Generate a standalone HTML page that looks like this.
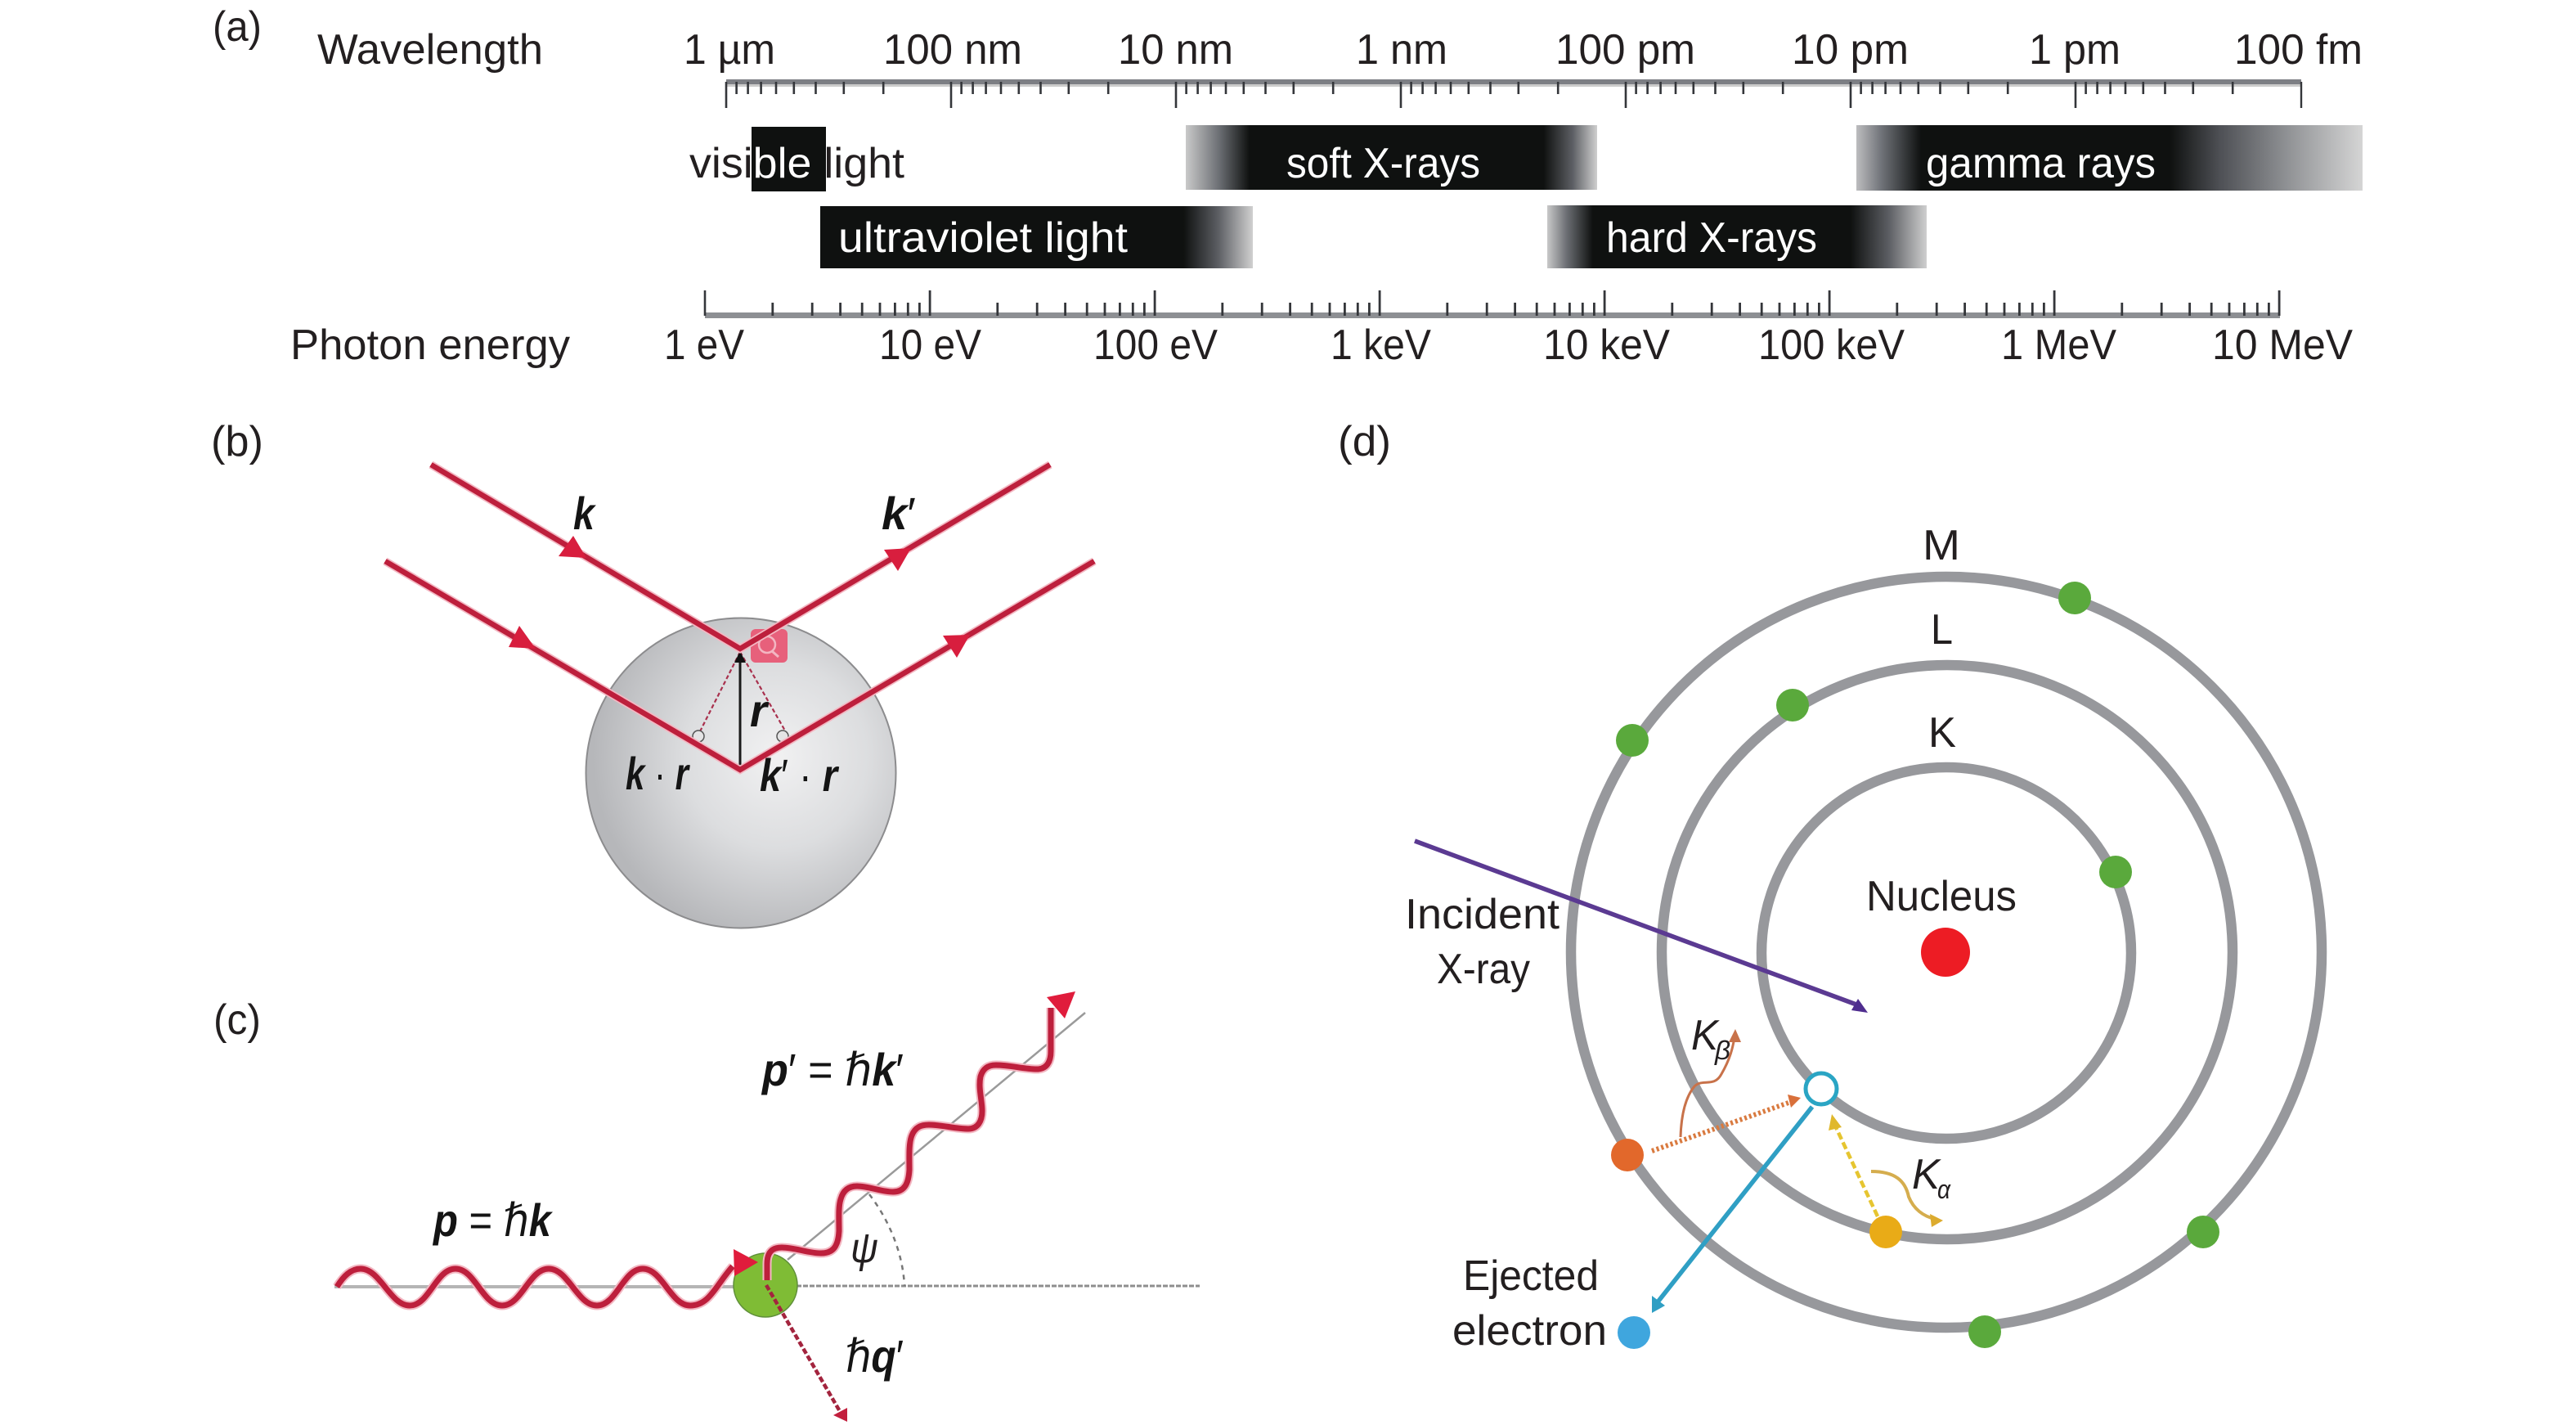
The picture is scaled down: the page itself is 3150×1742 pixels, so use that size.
<!DOCTYPE html>
<html><head><meta charset="utf-8"><title>X-ray diagram</title>
<style>
html,body{margin:0;padding:0;background:#fff}
svg{display:block}
text{font-family:"Liberation Sans","DejaVu Sans",sans-serif;font-size:52px;fill:#231f20}
.w{fill:#fff}
.b{font-weight:bold;font-style:italic;fill:#141414;font-size:56px}
.i{font-style:italic}
.n{font-weight:normal;font-style:normal}
</style></head><body>
<svg xmlns="http://www.w3.org/2000/svg" width="3150" height="1742" viewBox="0 0 3150 1742">
<defs>
<linearGradient id="uv" gradientUnits="userSpaceOnUse" x1="1003" x2="1532" y1="0" y2="0"><stop offset="0" stop-color="#0f1110"/><stop offset=".84" stop-color="#0f1110"/><stop offset=".92" stop-color="#5c5e63"/><stop offset="1" stop-color="#d0d0d0"/></linearGradient>
<linearGradient id="sx" gradientUnits="userSpaceOnUse" x1="1450" x2="1953" y1="0" y2="0"><stop offset="0" stop-color="#c9c9c9"/><stop offset=".08" stop-color="#6d7075"/><stop offset=".155" stop-color="#0f1110"/><stop offset=".87" stop-color="#0f1110"/><stop offset=".94" stop-color="#5c5e63"/><stop offset="1" stop-color="#cfcfcf"/></linearGradient>
<linearGradient id="hx" gradientUnits="userSpaceOnUse" x1="1892" x2="2356" y1="0" y2="0"><stop offset="0" stop-color="#c9c9c9"/><stop offset=".05" stop-color="#6d7075"/><stop offset=".12" stop-color="#0f1110"/><stop offset=".8" stop-color="#0f1110"/><stop offset=".9" stop-color="#5c5e63"/><stop offset="1" stop-color="#cfcfcf"/></linearGradient>
<linearGradient id="gm" gradientUnits="userSpaceOnUse" x1="2270" x2="2889" y1="0" y2="0"><stop offset="0" stop-color="#bdbdbf"/><stop offset=".05" stop-color="#6f7278"/><stop offset=".128" stop-color="#0f1110"/><stop offset=".62" stop-color="#0f1110"/><stop offset=".72" stop-color="#4f5156"/><stop offset=".85" stop-color="#8f9194"/><stop offset="1" stop-color="#d5d5d5"/></linearGradient>
<radialGradient id="sp" gradientUnits="userSpaceOnUse" cx="950" cy="925" r="225"><stop offset="0" stop-color="#f1f1f2"/><stop offset=".5" stop-color="#dcdddf"/><stop offset="1" stop-color="#b6b7ba"/></radialGradient>
<clipPath id="vis"><rect x="919" y="155" width="91" height="79"/></clipPath>
<path id="dt" d="M12.6 100V115M26.6 100V115M42.6 100V115M61 100V115M82.8 100V115M109.5 100V115M143.8 100V115M192.2 100V115M0 100V132" fill="none" stroke="#34363a" stroke-width="2.6"/>
<path id="db" d="M82.8 370V386M131.2 370V386M165.6 370V386M192.2 370V386M214 370V386M232.4 370V386M248.3 370V386M262.4 370V386M275.1 355V386" fill="none" stroke="#34363a" stroke-width="2.8"/>
</defs>

<!-- (a) -->
<text x="260" y="50" textLength="60" lengthAdjust="spacingAndGlyphs">(a)</text>
<text x="388" y="78" textLength="276" lengthAdjust="spacingAndGlyphs">Wavelength</text>
<text x="836" y="78" textLength="112" lengthAdjust="spacingAndGlyphs">1 µm</text>
<text x="1080" y="78" textLength="170" lengthAdjust="spacingAndGlyphs">100 nm</text>
<text x="1367" y="78" textLength="141" lengthAdjust="spacingAndGlyphs">10 nm</text>
<text x="1658" y="78" textLength="112" lengthAdjust="spacingAndGlyphs">1 nm</text>
<text x="1902" y="78" textLength="171" lengthAdjust="spacingAndGlyphs">100 pm</text>
<text x="2191" y="78" textLength="143" lengthAdjust="spacingAndGlyphs">10 pm</text>
<text x="2481" y="78" textLength="112" lengthAdjust="spacingAndGlyphs">1 pm</text>
<text x="2732" y="78" textLength="157" lengthAdjust="spacingAndGlyphs">100 fm</text>

<rect x="888" y="97" width="1926" height="6" fill="#7d7f84"/>
<rect x="888" y="103" width="1926" height="3" fill="#cbcbcb"/>
<use href="#dt" x="888"/><use href="#dt" x="1163"/><use href="#dt" x="1438"/><use href="#dt" x="1713"/><use href="#dt" x="1988"/><use href="#dt" x="2263"/><use href="#dt" x="2538"/>
<path d="M2814 100V132" stroke="#34363a" stroke-width="2.4"/>

<rect x="919" y="155" width="91" height="79" fill="#0f1110"/>
<rect x="1003" y="252" width="529" height="76" fill="url(#uv)"/>
<rect x="1450" y="153" width="503" height="79" fill="url(#sx)"/>
<rect x="1892" y="251" width="464" height="77" fill="url(#hx)"/>
<rect x="2270" y="153" width="619" height="80" fill="url(#gm)"/>

<text x="843" y="217" textLength="263" lengthAdjust="spacingAndGlyphs">visible light</text>
<text class="w" x="843" y="217" textLength="263" lengthAdjust="spacingAndGlyphs" clip-path="url(#vis)">visible light</text>
<text class="w" x="1025" y="308" textLength="354" lengthAdjust="spacingAndGlyphs">ultraviolet light</text>
<text class="w" x="1573" y="217" textLength="237" lengthAdjust="spacingAndGlyphs">soft X-rays</text>
<text class="w" x="2355" y="217" textLength="281" lengthAdjust="spacingAndGlyphs">gamma rays</text>
<text class="w" x="1964" y="308" textLength="258" lengthAdjust="spacingAndGlyphs">hard X-rays</text>

<rect x="862" y="382" width="1926" height="7" fill="#8d8f93"/>
<path d="M862 355V386" stroke="#34363a" stroke-width="2.6"/>
<use href="#db" x="862"/><use href="#db" x="1137"/><use href="#db" x="1412"/><use href="#db" x="1687"/><use href="#db" x="1962"/><use href="#db" x="2237"/><use href="#db" x="2512"/>

<text x="355" y="439" textLength="342" lengthAdjust="spacingAndGlyphs">Photon energy</text>
<text x="812" y="439" textLength="98" lengthAdjust="spacingAndGlyphs">1 eV</text>
<text x="1075" y="439" textLength="125" lengthAdjust="spacingAndGlyphs">10 eV</text>
<text x="1337" y="439" textLength="152" lengthAdjust="spacingAndGlyphs">100 eV</text>
<text x="1627" y="439" textLength="123" lengthAdjust="spacingAndGlyphs">1 keV</text>
<text x="1887" y="439" textLength="155" lengthAdjust="spacingAndGlyphs">10 keV</text>
<text x="2150" y="439" textLength="179" lengthAdjust="spacingAndGlyphs">100 keV</text>
<text x="2447" y="439" textLength="141" lengthAdjust="spacingAndGlyphs">1 MeV</text>
<text x="2705" y="439" textLength="172" lengthAdjust="spacingAndGlyphs">10 MeV</text>

<!-- (b) -->
<text x="258" y="557" textLength="64" lengthAdjust="spacingAndGlyphs">(b)</text>
<circle cx="906" cy="945" r="189.5" fill="url(#sp)" stroke="#8c8c8e" stroke-width="2"/>
<rect x="918" y="769" width="45" height="41" rx="6" fill="#e7607b"/>
<circle cx="938" cy="788" r="10" fill="none" stroke="#f3b6c2" stroke-width="2.5"/>
<path d="M944 796L952 803" stroke="#f3b6c2" stroke-width="3"/>
<path d="M905 797L851 904M905 797L965 902" stroke="#a8304d" stroke-width="2.2" stroke-dasharray="5 3" fill="none"/>
<circle cx="854" cy="900" r="7" fill="#e4e4e5" stroke="#555" stroke-width="1.5"/>
<circle cx="957" cy="900" r="7" fill="#e4e4e5" stroke="#555" stroke-width="1.5"/>
<path d="M905 941V805" stroke="#1a1a1a" stroke-width="3"/>
<path d="M905 796L898 810H912Z" fill="#111"/>
<g fill="none" stroke-linejoin="miter">
<path d="M527 568L905 793L1284 568M471 686L905 941L1338 686" stroke="#f3b7c2" stroke-width="10"/>
<path d="M527 568L905 793L1284 568M471 686L905 941L1338 686" stroke="#bd1f3c" stroke-width="6.5"/>
</g>
<g fill="#d81e3e">
<path d="M701 655L683 680L717 682Z"/>
<path d="M635 765L622 791L655 793Z"/>
<path d="M1081 672L1114 670L1098 698Z"/>
<path d="M1153 777L1186 776L1170 804Z"/>
</g>
<text class="b" x="701" y="647" textLength="26" lengthAdjust="spacingAndGlyphs">k</text>
<text class="b" x="1078" y="647" textLength="42" lengthAdjust="spacingAndGlyphs">k<tspan class="n">′</tspan></text>
<text class="b" x="917" y="888" textLength="21" lengthAdjust="spacingAndGlyphs">r</text>
<text class="b" x="765" y="965" textLength="77" lengthAdjust="spacingAndGlyphs">k <tspan class="n">·</tspan> r</text>
<text class="b" x="929" y="967" textLength="95" lengthAdjust="spacingAndGlyphs">k<tspan class="n">′ ·</tspan> r</text>

<!-- (c) -->
<text x="261" y="1264" textLength="58" lengthAdjust="spacingAndGlyphs">(c)</text>
<path d="M409 1573H900" stroke="#b5b5b5" stroke-width="4"/>
<path d="M974 1572H1467" stroke="#8e8e8e" stroke-width="3" stroke-dasharray="6 2"/>
<path d="M963 1540L1327 1238" stroke="#9a9a9a" stroke-width="2.5"/>
<path d="M1063 1460C1086 1490 1104 1530 1106 1572" fill="none" stroke="#777" stroke-width="2.5" stroke-dasharray="6 6"/>
<circle cx="936" cy="1571" r="39" fill="#7fbc35" stroke="#5f8f3a" stroke-width="1.5"/>
<g fill="none">
<path id="w1" d="M412 1573C420 1560 429 1551 441 1551C465 1551 477 1596 501 1596C525 1596 533 1551 557 1551C581 1551 590 1596 614 1596C638 1596 647 1551 671 1551C695 1551 706 1596 730 1596C754 1596 762 1551 786 1551C810 1551 820 1596 844 1596C868 1596 876 1570 896 1548" stroke="#f3b7c2" stroke-width="11"/>
<path d="M412 1573C420 1560 429 1551 441 1551C465 1551 477 1596 501 1596C525 1596 533 1551 557 1551C581 1551 590 1596 614 1596C638 1596 647 1551 671 1551C695 1551 706 1596 730 1596C754 1596 762 1551 786 1551C810 1551 820 1596 844 1596C868 1596 876 1570 896 1548" stroke="#bd1f3c" stroke-width="7"/>
</g>
<path d="M897 1527L927 1543L898 1560Z" fill="#e01c3c"/>
<g fill="none">
<path d="M938 1565V1545C938 1530 945 1525 956 1525C972 1525 988 1532 1004 1532C1020 1532 1025 1522 1026 1505C1026 1490 1025 1475 1028 1466C1031 1455 1038 1450 1048 1450C1062 1450 1078 1457 1092 1457C1106 1457 1111 1447 1112 1430C1112 1415 1111 1398 1115 1388C1119 1378 1126 1375 1136 1375C1152 1375 1168 1380 1184 1380C1196 1380 1201 1370 1201 1358C1201 1345 1196 1330 1199 1316C1202 1306 1208 1302 1218 1302C1235 1302 1252 1307 1268 1307C1280 1307 1285 1298 1285 1285V1232" stroke="#f3b7c2" stroke-width="11"/>
<path d="M938 1565V1545C938 1530 945 1525 956 1525C972 1525 988 1532 1004 1532C1020 1532 1025 1522 1026 1505C1026 1490 1025 1475 1028 1466C1031 1455 1038 1450 1048 1450C1062 1450 1078 1457 1092 1457C1106 1457 1111 1447 1112 1430C1112 1415 1111 1398 1115 1388C1119 1378 1126 1375 1136 1375C1152 1375 1168 1380 1184 1380C1196 1380 1201 1370 1201 1358C1201 1345 1196 1330 1199 1316C1202 1306 1208 1302 1218 1302C1235 1302 1252 1307 1268 1307C1280 1307 1285 1298 1285 1285V1232" stroke="#bd1f3c" stroke-width="7"/>
</g>
<path d="M1280 1219L1315 1212L1302 1245Z" fill="#e01c3c"/>
<path d="M937 1571L1028 1727" stroke="#a3243e" stroke-width="4.5" stroke-dasharray="7 3" fill="none"/>
<path d="M1019 1730L1036 1721V1738Z" fill="#c21f3d"/>
<text class="b" x="530" y="1511" textLength="144" lengthAdjust="spacingAndGlyphs">p<tspan class="n"> = ℏ</tspan>k</text>
<text class="b" x="932" y="1327" textLength="173" lengthAdjust="spacingAndGlyphs">p<tspan class="n">′ = ℏ</tspan>k<tspan class="n">′</tspan></text>
<text class="b" x="1034" y="1677" textLength="71" lengthAdjust="spacingAndGlyphs"><tspan class="n">ℏ</tspan>q<tspan class="n">′</tspan></text>
<text class="i" x="1040" y="1543" textLength="34" lengthAdjust="spacingAndGlyphs">ψ</text>

<!-- (d) -->
<text x="1636" y="557" textLength="65" lengthAdjust="spacingAndGlyphs">(d)</text>
<g fill="none" stroke="#97989c" stroke-width="12.5">
<ellipse cx="2380" cy="1164" rx="459" ry="459"/>
<ellipse cx="2381" cy="1164" rx="349" ry="351"/>
<ellipse cx="2380" cy="1165" rx="226" ry="227"/>
</g>
<circle cx="2379" cy="1164" r="30" fill="#ed1c24"/>
<g fill="#5aa93c">
<circle cx="2537" cy="731" r="20"/>
<circle cx="1996" cy="905" r="20"/>
<circle cx="2192" cy="862" r="20"/>
<circle cx="2587" cy="1066" r="20"/>
<circle cx="2694" cy="1506" r="20"/>
<circle cx="2427" cy="1628" r="20"/>
</g>
<circle cx="1990" cy="1412" r="20" fill="#e2682b"/>
<circle cx="2306" cy="1506" r="20" fill="#e9ab17"/>
<circle cx="1998" cy="1629" r="20" fill="#3fa6de"/>
<path d="M1730 1028L2270 1228" fill="none" stroke="#5b3a92" stroke-width="5.5"/>
<path d="M2284 1238L2264 1235L2272 1221Z" fill="#4f2d8f"/>
<circle cx="2227" cy="1331" r="19" fill="#fff" stroke="#2aa5c4" stroke-width="5"/>
<path d="M2216 1353L2026 1593" fill="none" stroke="#2f9fc4" stroke-width="5.5"/>
<path d="M2020 1605L2020 1584L2036 1596Z" fill="#2f9fc4"/>
<path d="M2020 1407L2190 1347" fill="none" stroke="#d97a3f" stroke-width="6" stroke-dasharray="3 3"/>
<path d="M2202 1342L2186 1338L2190 1354Z" fill="#d9703a"/>
<path d="M2055 1390C2056 1360 2062 1340 2072 1328C2082 1318 2096 1330 2105 1313C2116 1294 2119 1280 2121 1268" fill="none" stroke="#c8724a" stroke-width="3"/>
<path d="M2122 1258L2114 1274H2129Z" fill="#c8724a"/>
<path d="M2296 1487L2244 1376" fill="none" stroke="#e6c530" stroke-width="4.5" stroke-dasharray="9 4"/>
<path d="M2240 1362L2236 1382L2252 1378Z" fill="#e0b82c"/>
<path d="M2288 1432C2318 1432 2330 1444 2334 1463C2340 1478 2352 1487 2366 1490" fill="none" stroke="#d5ad4e" stroke-width="4"/>
<path d="M2376 1492L2360 1484L2362 1500Z" fill="#dcab2e"/>

<text x="2351" y="684" textLength="46" lengthAdjust="spacingAndGlyphs">M</text>
<text x="2361" y="787" textLength="27" lengthAdjust="spacingAndGlyphs">L</text>
<text x="2358" y="913" textLength="34" lengthAdjust="spacingAndGlyphs">K</text>
<text x="2282" y="1113" textLength="184" lengthAdjust="spacingAndGlyphs">Nucleus</text>
<text x="1718" y="1135" textLength="189" lengthAdjust="spacingAndGlyphs">Incident</text>
<text x="1757" y="1202" textLength="114" lengthAdjust="spacingAndGlyphs">X-ray</text>
<text x="1789" y="1577" textLength="166" lengthAdjust="spacingAndGlyphs">Ejected</text>
<text x="1776" y="1644" textLength="189" lengthAdjust="spacingAndGlyphs">electron</text>
<text class="i" x="2068" y="1283" textLength="33" lengthAdjust="spacingAndGlyphs">K</text>
<text class="i" x="2097" y="1295" textLength="19" lengthAdjust="spacingAndGlyphs" style="font-size:32px">β</text>
<text class="i" x="2338" y="1453" textLength="34" lengthAdjust="spacingAndGlyphs">K</text>
<text class="i" x="2369" y="1465" textLength="16" lengthAdjust="spacingAndGlyphs" style="font-size:32px">α</text>
</svg>
</body></html>
